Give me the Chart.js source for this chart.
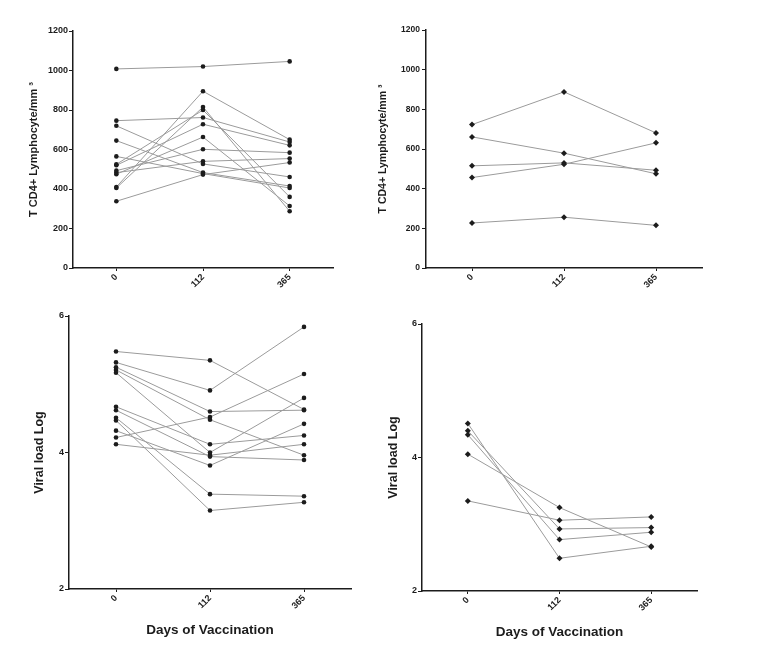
<!DOCTYPE html>
<html>
<head>
<meta charset="utf-8">
<script src="https://cdn.jsdelivr.net/npm/chart.js@4.4.0/dist/chart.umd.min.js"></script>
<style>
	html, body { margin: 0; padding: 0; background: #fff; overflow: hidden; }
	#stage { position: relative; width: 768px; height: 662px; }
	#stage canvas { position: absolute; left: 0; top: 0; }
</style>
</head>
<body>
<div id="stage">
	<canvas id="cd4Left" width="768" height="662"></canvas>
	<canvas id="cd4Right" width="768" height="662"></canvas>
	<canvas id="loadLeft" width="768" height="662"></canvas>
	<canvas id="loadRight" width="768" height="662"></canvas>
</div>
<script>
// days after vaccination (x categories)
const days = ['0', '112', '365'];

// T CD4+ lymphocytes/mm3, left group, one entry per patient
const cd4LeftDay0   = [1008, 746, 720, 645, 565, 525, 520, 493, 483, 475, 410, 405, 338];
const cd4LeftDay112 = [1020, 762, 527, 483, 478, 800, 728, 601, 540, 663, 895, 815, 473];
const cd4LeftDay365 = [1046, 638, 461, 415, 405, 360, 621, 584, 554, 314, 650, 287, 534];

// T CD4+ lymphocytes/mm3, right group
const cd4RightDay0   = [723, 661, 515, 456, 227];
const cd4RightDay112 = [888, 579, 530, 523, 256];
const cd4RightDay365 = [681, 475, 493, 631, 215];

// viral load (log), left group
const loadLeftDay0   = [5.48, 5.32, 5.25, 5.21, 5.17, 4.67, 4.62, 4.51, 4.47, 4.32, 4.22, 4.12];
const loadLeftDay112 = [5.35, 4.91, 4.60, 4.48, 4.00, 4.12, 3.94, 3.39, 3.15, 3.81, 4.52, 3.96];
const loadLeftDay365 = [4.63, 5.84, 4.62, 3.96, 4.80, 4.25, 3.89, 3.36, 3.27, 4.42, 5.15, 4.12];

// viral load (log), right group
const loadRightDay0   = [4.05, 3.35, 4.51, 4.40, 4.34];
const loadRightDay112 = [3.25, 3.06, 2.49, 2.93, 2.77];
const loadRightDay365 = [2.66, 3.11, 2.67, 2.95, 2.88];

const cd4Ticks = { min: 0, max: 1200, step: 200 };
const loadTicks = { min: 2, max: 6, step: 2 };

const fontFamily = '"Liberation Sans", Arial, sans-serif';
const ink = '#1c1c1c';

function makePanel(cfg)
{
	let datasets = cfg.day0.map((v, i) => {
		return {
			data: [v, cfg.day112[i], cfg.day365[i]],
			borderColor: '#9b9b9b',
			borderWidth: 1,
			backgroundColor: ink,
			pointBackgroundColor: ink,
			pointBorderColor: ink,
			pointBorderWidth: 0,
			pointStyle: cfg.marker,
			pointRadius: cfg.markerSize,
			fill: false,
			tension: 0
		};
	});

	new Chart(cfg.id, {
		type: 'line',
		data: {
			labels: days,
			datasets: datasets
		},
		options: {
			responsive: false,
			animation: false,
			layout: {
				padding: cfg.pad
			},
			plugins: {
				legend: { display: false },
				tooltip: { enabled: false }
			},
			scales: {
				x: {
					offset: true,
					border: { color: ink, width: 1.5 },
					grid: { drawOnChartArea: false, tickLength: 3, color: ink },
					ticks: {
						autoSkip: false,
						minRotation: 45,
						maxRotation: 45,
						padding: 1,
						color: ink,
						font: { family: fontFamily, size: 9, weight: 'bold' }
					},
					title: {
						display: cfg.xTitle != '',
						text: cfg.xTitle,
						color: ink,
						padding: 0,
						font: { family: fontFamily, size: 13.5, weight: 'bold' }
					},
					afterFit: (s) => { s.height = cfg.xH; }
				},
				y: {
					min: cfg.range.min,
					max: cfg.range.max,
					border: { color: ink, width: 1.5 },
					grid: { drawOnChartArea: false, tickLength: 4, color: ink },
					ticks: {
						stepSize: cfg.range.step,
						padding: cfg.tickPad,
						color: ink,
						font: { family: fontFamily, size: cfg.tickSize, weight: 'bold' },
						// plain numbers, no thousands separator
						callback: (v) => String(v)
					},
					title: {
						display: true,
						text: cfg.yTitle,
						color: ink,
						padding: 0,
						font: { family: fontFamily, size: cfg.yTitleSize, weight: 'bold' }
					},
					afterFit: (s) => { s.width = cfg.yW; }
				}
			}
		}
	});
}

makePanel({
	id: 'cd4Left', day0: cd4LeftDay0, day112: cd4LeftDay112, day365: cd4LeftDay365,
	range: cd4Ticks, yTitle: 'T CD4+ Lymphocyte/mm ³', yTitleSize: 11, xTitle: '',
	tickSize: 9, tickPad: 1, marker: 'circle', markerSize: 2.3,
	pad: { left: 27.4, top: 31, right: 435, bottom: 364 }, yW: 45.6, xH: 30
});

makePanel({
	id: 'cd4Right', day0: cd4RightDay0, day112: cd4RightDay112, day365: cd4RightDay365,
	range: cd4Ticks, yTitle: 'T CD4+ Lymphocyte/mm ³', yTitleSize: 10.5, xTitle: '',
	tickSize: 8.5, tickPad: 2, marker: 'rectRot', markerSize: 3,
	pad: { left: 376.7, top: 30, right: 66, bottom: 364 }, yW: 49.3, xH: 30
});

makePanel({
	id: 'loadLeft', day0: loadLeftDay0, day112: loadLeftDay112, day365: loadLeftDay365,
	range: loadTicks, yTitle: 'Viral load Log', yTitleSize: 12.5, xTitle: 'Days of Vaccination',
	tickSize: 9, tickPad: 1, marker: 'circle', markerSize: 2.3,
	pad: { left: 32, top: 316, right: 417, bottom: 23.9 }, yW: 37, xH: 49.1
});

makePanel({
	id: 'loadRight', day0: loadRightDay0, day112: loadRightDay112, day365: loadRightDay365,
	range: loadTicks, yTitle: 'Viral load Log', yTitleSize: 12.5, xTitle: 'Days of Vaccination',
	tickSize: 9, tickPad: 1, marker: 'rectRot', markerSize: 3,
	pad: { left: 386, top: 324, right: 71, bottom: 21.9 }, yW: 36, xH: 49.1
});
</script>
</body>
</html>
